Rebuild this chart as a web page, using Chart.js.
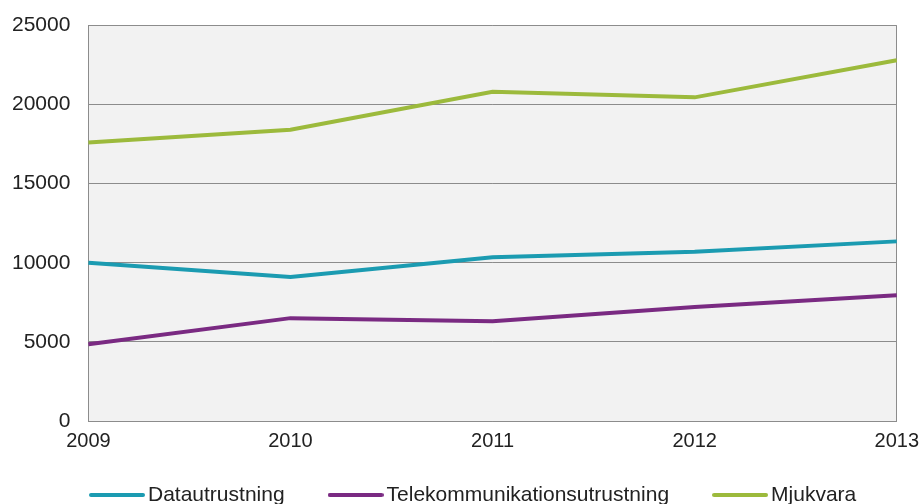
<!DOCTYPE html>
<html>
<head>
<meta charset="utf-8">
<script src="https://cdn.jsdelivr.net/npm/chart.js@4/dist/chart.umd.min.js"></script>
<style>
html,body{margin:0;padding:0;background:#fff;}
#wrap{width:922px;height:504px;position:relative;}
</style>
</head>
<body>
<div id="wrap"><canvas id="c" width="922" height="504"></canvas></div>
<script>
const categories = ['2009','2010','2011','2012','2013'];
const datautrustning = [10000, 9100, 10350, 10700, 11350];
const telekom = [4850, 6500, 6300, 7200, 7950];
const mjukvara = [17600, 18400, 20800, 20450, 22800];
const seriesNames = ['Datautrustning','Telekommunikationsutrustning','Mjukvara'];
const colors = ['#1b9bb1','#7a2a82','#9cba3c'];

// legend line markers (drawn by Chart.js legend as point style images)
function makeMarker(color){
  const c = document.createElement('canvas');
  c.width = 56; c.height = 6;
  const x = c.getContext('2d');
  x.strokeStyle = color; x.lineWidth = 4; x.lineCap = 'round';
  x.beginPath(); x.moveTo(2, 3); x.lineTo(54, 3); x.stroke();
  return c;
}
const markers = colors.map(makeMarker);

const bgPlugin = {
  id: 'bg',
  beforeDraw(chart){
    const a = chart.chartArea, ctx = chart.ctx;
    ctx.save();
    ctx.fillStyle = '#f2f2f2';
    ctx.fillRect(a.left, a.top, a.right - a.left, a.bottom - a.top);
    ctx.restore();
  }
};
const LEGEND_H = 43;
const LEGEND_PAD = 50.5;
const legendTweak = {
  id: 'legendTweak',
  afterInit(chart){
    const l = chart.legend;
    if (!l) return;
    const orig = l.fit.bind(l);
    l.fit = function(){ orig(); this.height = LEGEND_H; };
  },
  afterLayout(chart){
    const l = chart.legend;
    if (!l) return;
    l.left = 46;
    l.right = chart.width;
    l.top = 434;
    l.bottom = chart.height;
  }
};

Chart.defaults.font.family = '"Liberation Sans", Arial, sans-serif';
Chart.defaults.color = '#222';

new Chart(document.getElementById('c'), {
  type: 'line',
  data: {
    labels: categories,
    datasets: [
      {label: seriesNames[0], data: datautrustning, borderColor: colors[0], backgroundColor: colors[0]},
      {label: seriesNames[1], data: telekom, borderColor: colors[1], backgroundColor: colors[1]},
      {label: seriesNames[2], data: mjukvara, borderColor: colors[2], backgroundColor: colors[2]}
    ].map(d => Object.assign(d, {borderWidth: 4, pointRadius: 0, tension: 0, fill: false}))
  },
  plugins: [bgPlugin, legendTweak],
  options: {
    responsive: false,
    animation: false,
    layout: {padding: {top: 5, left: -6, right: 0, bottom: 0}},
    plugins: {
      legend: {
        position: 'bottom',
        align: 'start',
        labels: {
          usePointStyle: true,
          pointStyleWidth: 41,
          boxHeight: 4,
          padding: LEGEND_PAD,
          font: {size: 21},
          color: '#222',
          generateLabels: chart => Chart.defaults.plugins.legend.labels.generateLabels(chart)
            .map((it, i) => Object.assign(it, {pointStyle: markers[i], rotation: 0}))
        }
      },
      tooltip: {enabled: false}
    },
    scales: {
      x: {
        offset: false,
        grid: {
          drawTicks: false,
          color: c => c.index === 4 ? '#8c8c8c' : 'rgba(0,0,0,0)',
          lineWidth: 1
        },
        border: {color: '#8c8c8c', width: 1},
        ticks: {font: {size: 20, lineHeight: 1.7}, color: '#222', padding: 3, maxRotation: 0}
      },
      y: {
        min: 0, max: 25000,
        grid: {drawTicks: false, color: '#8c8c8c', lineWidth: 1},
        border: {color: '#8c8c8c', width: 1},
        ticks: {stepSize: 5000, font: {size: 21, lineHeight: 0.7}, color: '#222', padding: 18,
          callback: v => String(v)}
      }
    }
  }
});
</script>
</body>
</html>
